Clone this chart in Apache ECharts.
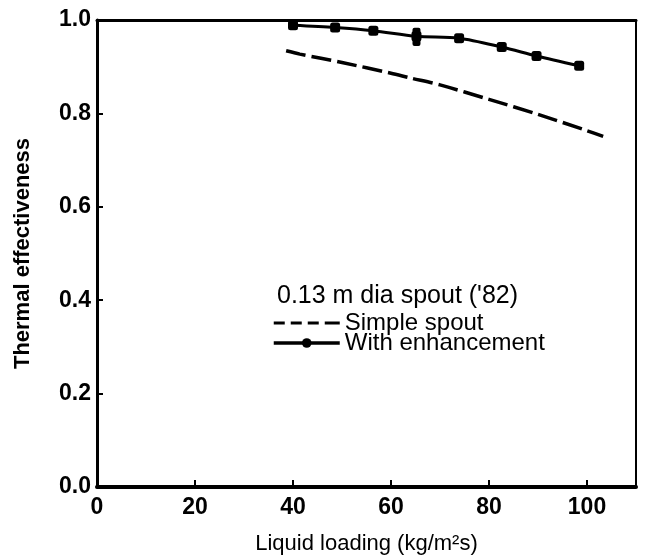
<!DOCTYPE html>
<html>
<head>
<meta charset="utf-8">
<script src="https://cdn.jsdelivr.net/npm/echarts@6/dist/echarts.min.js"></script>
<style>
html,body{margin:0;padding:0;background:#fff;}
#c{width:655px;height:560px;}
</style>
</head>
<body>
<div id="c"></div>
<script>
// Data
const simpleX = [38.6, 41.4, 50, 60, 63.9, 70, 80, 90, 100, 103.3];
const simpleY = [0.934, 0.927, 0.909, 0.886, 0.876, 0.861, 0.830, 0.798, 0.763, 0.751];
const enhX = [40, 48.6, 56.4, 65.2, 73.9, 82.6, 89.7, 98.4];
const enhY = [0.989, 0.984, 0.977, 0.965, 0.961, 0.942, 0.923, 0.902];
const enhExtraX = [65.2, 65.2];
const enhExtraY = [0.975, 0.953];
const xTicks = [0, 20, 40, 60, 80, 100];
const yTicks = ['0.0', '0.2', '0.4', '0.6', '0.8', '1.0'];
const seriesNames = ['Simple spout', 'With enhancement'];
const noteText = "0.13 m dia spout ('82)";
const codeText = 'BA-G0249410';
const xTitle = 'Liquid loading (kg/m²s)';
const yTitle = 'Thermal effectiveness';

const FONT = '"Liberation Sans", Arial, Helvetica, sans-serif';
const zip = (a, b) => a.map((v, i) => [v, b[i]]);

const dashIcon = 'path://M0,0h11v3h-11z M17,0h11v3h-11z M34,0h11v3h-11z M51,0h15v3h-15z';

const chart = echarts.init(document.getElementById('c'), null, {renderer: 'canvas'});
chart.setOption({
  animation: false,
  backgroundColor: '#fff',
  textStyle: {fontFamily: FONT, color: '#000'},
  grid: {left: 97, top: 20, right: 19, bottom: 72, show: false},
  xAxis: [{
    type: 'value', min: 0, max: 110, interval: 20,
    name: xTitle, nameLocation: 'middle', nameGap: 46,
    nameTextStyle: {fontSize: 22, color: '#000', fontFamily: FONT},
    axisLine: {onZero: false, lineStyle: {color: '#000', width: 4}},
    axisTick: {inside: true, length: 7, lineStyle: {color: '#000', width: 2}},
    axisLabel: {fontSize: 23, fontWeight: 'bold', color: '#000', margin: 9, showMaxLabel: false, fontFamily: FONT,
      formatter: v => xTicks.indexOf(v) >= 0 ? String(v) : ''},
    splitLine: {show: false}
  }, {
    type: 'value', min: 0, max: 110, position: 'top',
    axisLine: {onZero: false, lineStyle: {color: '#000', width: 3}},
    axisTick: {show: false}, axisLabel: {show: false}, splitLine: {show: false}
  }],
  yAxis: [{
    type: 'value', min: 0, max: 1, interval: 0.2,
    name: yTitle, nameLocation: 'middle', nameGap: 63, nameRotate: 90,
    nameTextStyle: {fontSize: 22, fontWeight: 'bold', color: '#000', fontFamily: FONT},
    axisLine: {onZero: false, lineStyle: {color: '#000', width: 3}},
    axisTick: {inside: true, length: 6, lineStyle: {color: '#000', width: 2}},
    axisLabel: {fontSize: 23, fontWeight: 'bold', color: '#000', margin: 6, fontFamily: FONT,
      formatter: v => yTicks[Math.round(v * 5)]},
    splitLine: {show: false}
  }, {
    type: 'value', min: 0, max: 1, position: 'right',
    axisLine: {onZero: false, lineStyle: {color: '#000', width: 2}},
    axisTick: {show: false}, axisLabel: {show: false}, splitLine: {show: false}
  }],
  legend: {
    orient: 'vertical', left: 272, top: 311, itemGap: -4, padding: 0,
    itemWidth: 66, itemHeight: 12,
    textStyle: {fontSize: 24, color: '#000', lineHeight: 19, fontFamily: FONT},
    data: [
      {name: seriesNames[0], icon: dashIcon},
      {name: seriesNames[1], lineStyle: {width: 3.5}}
    ]
  },
  series: [{
    name: seriesNames[0], type: 'line', data: zip(simpleX, simpleY),
    symbol: 'none', smooth: 0.3,
    lineStyle: {color: '#000', width: 3.5, type: [20, 6]},
    itemStyle: {color: '#000'}
  }, {
    name: seriesNames[1], type: 'line',
    data: zip(enhX, enhY).map(p => ({value: p, symbol: 'roundRect'})),
    symbol: 'circle', symbolSize: 10, smooth: 0.3,
    lineStyle: {color: '#000', width: 3},
    itemStyle: {color: '#000'}
  }, {
    name: 'extra', type: 'scatter', data: zip(enhExtraX, enhExtraY),
    symbol: 'roundRect', symbolSize: [8, 8],
    itemStyle: {color: '#000', opacity: 1}
  }],
  graphic: [{
    type: 'text', left: 277, top: 284,
    style: {text: noteText, font: '25px ' + FONT, fill: '#000'}
  }, {
    type: 'text', x: 654, y: 6, rotation: Math.PI / 2,
    style: {text: codeText, font: 'bold 11px ' + FONT, fill: '#000', align: 'left', verticalAlign: 'top'}
  }]
});
</script>
</body>
</html>
